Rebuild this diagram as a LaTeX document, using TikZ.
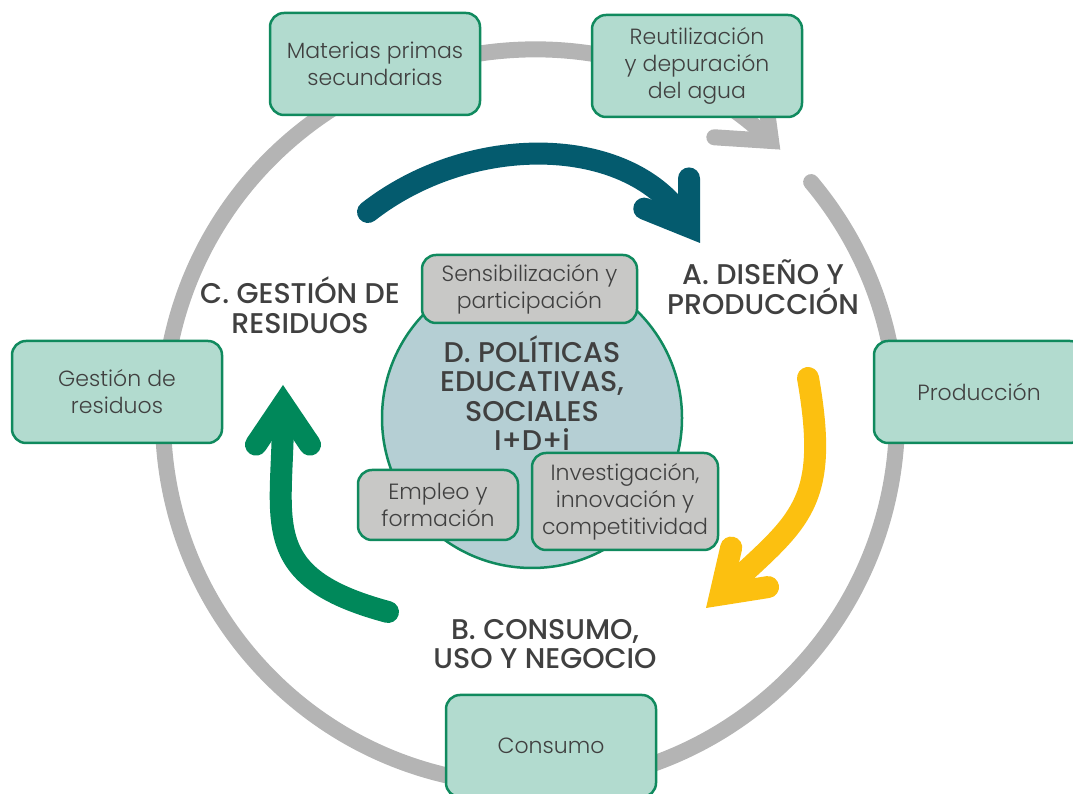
\documentclass[tikz,border=0pt]{standalone}
\usepackage{xcolor}
\usepackage{tikz}
\usepackage{fontspec}
\IfFontExistsTF{Poppins Light}{\setmainfont{Poppins Light}}{\setmainfont{Poppins}}
\IfFontExistsTF{Poppins Medium}{\newfontfamily\stagefont{Poppins Medium}}{\newfontfamily\stagefont{Poppins}}
\usetikzlibrary{arrows.meta, positioning}
\definecolor{boxgreen}{HTML}{B2DBCF}
\definecolor{edgegreen}{HTML}{108A5E}
\definecolor{ringgray}{HTML}{B4B4B4}
\definecolor{corefill}{HTML}{B5CFD4}
\definecolor{tagfill}{HTML}{C8C8C6}
\definecolor{inkgray}{HTML}{404040}
\definecolor{flowteal}{HTML}{045B6E}
\definecolor{flowyellow}{HTML}{FCC010}
\definecolor{flowgreen}{HTML}{00885A}
\tikzset{
  box/.style={rectangle, draw=edgegreen, fill=boxgreen, line width=2.5pt, rounded corners=14pt, align=center, text=inkgray, inner sep=2pt, minimum width=210pt, minimum height=102pt, font=\fontsize{22}{27}\selectfont},
  tag/.style={box, fill=tagfill},
  stage/.style={align=center, text=inkgray, font=\stagefont\fontsize{28.5}{29.5}\selectfont},
  ring/.style={draw=ringgray, line width=16pt, line cap=round, -{Straight Barb[length=44pt, width=72pt, line cap=round, line join=miter]}},
  flow/.style={line width=22pt, line cap=round, -{Straight Barb[length=40pt, width=54pt, line cap=round, line join=miter]}}
}
\begin{document}
\begin{tikzpicture}[x=1pt, y=1pt]
    \useasboundingbox (0,0) rectangle (1073,794);
    \coordinate (c) at (530,376);
    \draw[ring] (c) ++(40:367) arc[start angle=40, end angle=-313, radius=367];
    \coordinate (t0) at (368,582);
    \coordinate (t1) at (700,551);
    \coordinate (y0) at (808,416);
    \coordinate (y1) at (706,186);
    \coordinate (g0) at (388,182);
    \coordinate (g1) at (283,409);
    \draw[flow, flowteal] (t0) to[out=38, in=124] (t1);
    \draw[flow, flowyellow] (y0) to[out=-80, in=43, looseness=1.3] (y1);
    \draw[flow, flowgreen] (g0) to[out=165, in=-90, looseness=1.4] (g1);
    \node[circle, draw=edgegreen, fill=corefill, line width=2.5pt, minimum size=300pt] (core) at (532,376) {};
    \node[stage] (pol) at (532,401) {D. POLÍTICAS\\EDUCATIVAS,\\SOCIALES\\I+D+i};
    \node[tag, minimum width=215pt, minimum height=68pt] (sen) at (529.5,505) {Sensibilización y\\participación};
    \node[tag, minimum width=160pt, minimum height=70pt] (emp) at (438,289) {Empleo y\\formación};
    \node[tag, minimum width=186pt, minimum height=97pt] (inv) at (625,292.5) {Investigación,\\innovación y\\competitividad};
    \node[box] (mat) at (375,730) {Materias primas\\secundarias};
    \node[box] (reu) at (697,728) {Reutilización\\y depuración\\del agua};
    \node[box] (pro) at (979,402) {Producción};
    \node[box] (con) at (551,48) {Consumo};
    \node[box] (ges) at (117,402) {Gestión de\\residuos};
    \node[stage] (res) at (300,489) {C. GESTIÓN DE\\RESIDUOS};
    \node[stage] (dis) at (763,507) {A. DISEÑO Y\\PRODUCCIÓN};
    \node[stage] (uso) at (545,150) {B. CONSUMO,\\USO Y NEGOCIO};
  \end{tikzpicture}
\end{document}
